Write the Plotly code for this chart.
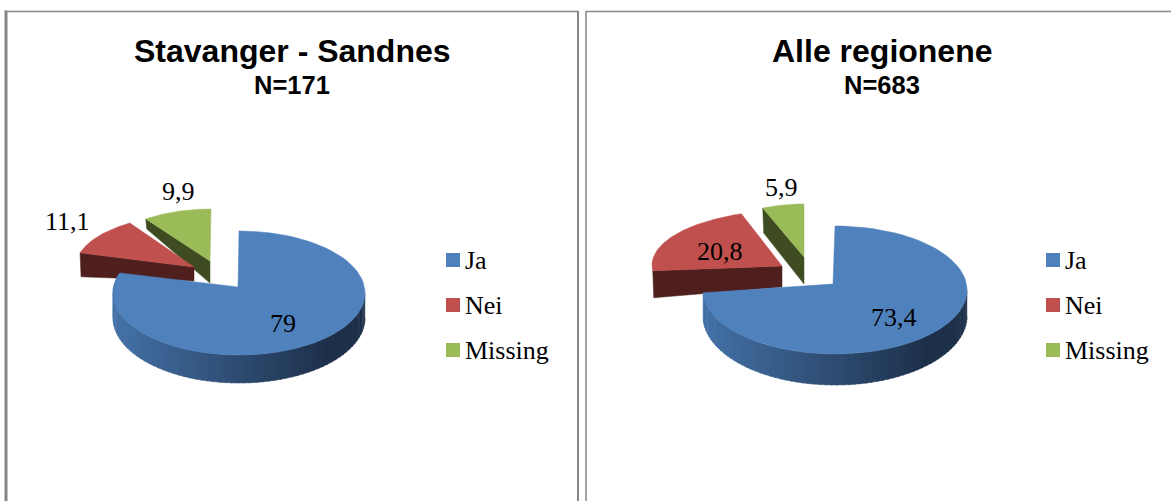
import numpy as np
import plotly.graph_objects as go

# ---- data ----
panel_titles = ["Stavanger - Sandnes", "Alle regionene"]
panel_counts = ["N=171", "N=683"]
categories = ["Ja", "Nei", "Missing"]
values_left = [79, 11.1, 9.9]
values_right = [73.4, 20.8, 5.9]
value_labels_left = ["79", "11,1", "9,9"]
value_labels_right = ["73,4", "20,8", "5,9"]

# ---- style ----
colors = ["#4f81bd", "#c0504d", "#9bbb59"]
side_colors = [None, "#4f1f1e", "#3f4c22"]
border = "#868686"
WALL_L = np.array([0x45, 0x72, 0xa8])
WALL_R = np.array([0x1d, 0x30, 0x4a])

# per-slice projection: ellipse centre, radii, apex, wall depth outer/apex, end-angle correction
geom_left = [
    dict(c=(239, 293), r=(126, 62), apex=(238, 287), wall=(24, 27), end=4.5),
    dict(c=(205, 266), r=(129, 53), apex=(194, 267), wall=(24, 14), end=0),
    dict(c=(211, 262), r=(112, 53), apex=(210, 261), wall=(10, 22), end=0),
]
geom_right = [
    dict(c=(835, 290), r=(132, 64), apex=(833, 284), wall=(25, 30), end=3.5),
    dict(c=(792, 265), r=(140, 55), apex=(782, 266), wall=(27, 21), end=0),
    dict(c=(804, 264), r=(114, 60), apex=(804, 257), wall=(25, 27), end=0),
]
label_pos_left = [(283, 323), (67, 221), (178, 191)]
label_pos_right = [(894, 317), (720, 251), (781, 187)]
legend_x = [453, 1053]
legend_y = [260, 305, 350]
legend_text_dx = 12
legend_text_dy = 2
title_x = [292, 882]

fig = go.Figure()


def poly(xs, ys, color):
    fig.add_trace(go.Scatter(x=xs, y=ys, mode="lines", fill="toself", fillcolor=color,
                             line=dict(color=color, width=0.5), hoverinfo="skip",
                             showlegend=False))


def draw_pie(values, geom):
    fr = np.cumsum([0] + list(values)) / sum(values) * 2 * np.pi
    order = [2, 1, 0]
    for i in order:
        g = geom[i]
        (cx, cy), (rx, ry), (ax, ay), (dout, dapex) = g["c"], g["r"], g["apex"], g["wall"]
        t_end = fr[i + 1] + np.radians(g["end"])
        t = np.linspace(fr[i], t_end, 80)
        ex, ey = cx + rx * np.sin(t), cy - ry * np.cos(t)
        if i == 0:
            # front wall with horizontal gradient
            n = 70
            edges = np.linspace(np.pi / 2, min(3 * np.pi / 2 + 0.3, t_end), n + 1)
            for a, b in zip(edges[:-1], edges[1:]):
                tt = np.linspace(a, min(b + 0.01, t_end), 5)
                x = cx + rx * np.sin(tt)
                y = cy - ry * np.cos(tt)
                d = dout + (dapex - dout) * np.clip(-np.cos(tt), 0, 1) + 1
                f = np.clip((x.mean() - (cx - rx)) / (2 * rx), 0, 1)
                f = min(1, f / 0.85)
                col = WALL_L + (WALL_R - WALL_L) * f
                c = "rgb(%d,%d,%d)" % tuple(col)
                fig.add_trace(go.Scatter(
                    x=np.r_[x, x[::-1]], y=np.r_[y, (y + d)[::-1]], mode="lines",
                    fill="toself", fillcolor=c, line=dict(color=c, width=0.5),
                    hoverinfo="skip", showlegend=False))
        else:
            # cut face along the slice's starting edge
            poly([ax, ex[0], ex[0] + 1, ax, ax], [ay, ey[0], ey[0] + dout, ay + dapex, ay],
                 side_colors[i])
        poly(np.r_[ax, ex, ax], np.r_[ay, ey, ay], colors[i])


draw_pie(values_left, geom_left)
draw_pie(values_right, geom_right)

# legend markers & names
for lx in legend_x:
    fig.add_trace(go.Scatter(
        x=[lx] * 3, y=legend_y, mode="markers",
        marker=dict(symbol="square", size=14, color=colors),
        hoverinfo="skip", showlegend=False, cliponaxis=False))
    fig.add_trace(go.Scatter(
        x=[lx + legend_text_dx] * 3, y=[v + legend_text_dy for v in legend_y],
        mode="text", text=categories, textposition="middle right",
        textfont=dict(family="Liberation Serif", size=26, color="black"),
        hoverinfo="skip", showlegend=False, cliponaxis=False))

ann = []
for lab, pos in list(zip(value_labels_left, label_pos_left)) + list(zip(value_labels_right, label_pos_right)):
    ann.append(dict(x=pos[0], y=pos[1], text=lab, showarrow=False, xanchor="center", yanchor="middle",
                    font=dict(family="Liberation Serif", size=26, color="black")))
for tx, t, n in zip(title_x, panel_titles, panel_counts):
    ann.append(dict(x=tx, y=51, text="<b>" + t + "</b>", showarrow=False, xanchor="center", yanchor="middle",
                    font=dict(family="Liberation Sans", size=32, color="black")))
    ann.append(dict(x=tx, y=85, text="<b>" + n + "</b>", showarrow=False, xanchor="center", yanchor="middle",
                    font=dict(family="Liberation Sans", size=25.5, color="black")))

shapes = [
    dict(type="line", x0=6, x1=6, y0=10.5, y1=501, line=dict(color=border, width=3)),
    dict(type="line", x0=5, x1=578, y0=11.5, y1=11.5, line=dict(color=border, width=1.5)),
    dict(type="line", x0=578, x1=578, y0=11, y1=501, line=dict(color=border, width=2)),
    dict(type="line", x0=586, x1=586, y0=11, y1=501, line=dict(color=border, width=1.5)),
    dict(type="line", x0=586, x1=1171, y0=11.5, y1=11.5, line=dict(color=border, width=1.5)),
]

fig.update_layout(
    width=1171, height=501, margin=dict(l=0, r=0, t=0, b=0),
    paper_bgcolor="white", plot_bgcolor="white", showlegend=False,
    annotations=ann, shapes=shapes,
    xaxis=dict(range=[0, 1171], visible=False, fixedrange=True),
    yaxis=dict(range=[501, 0], visible=False, fixedrange=True),
)
fig.write_html("out.html", config=dict(displayModeBar=False),
               post_script="document.body.style.margin='0';document.body.style.overflow='hidden';")
